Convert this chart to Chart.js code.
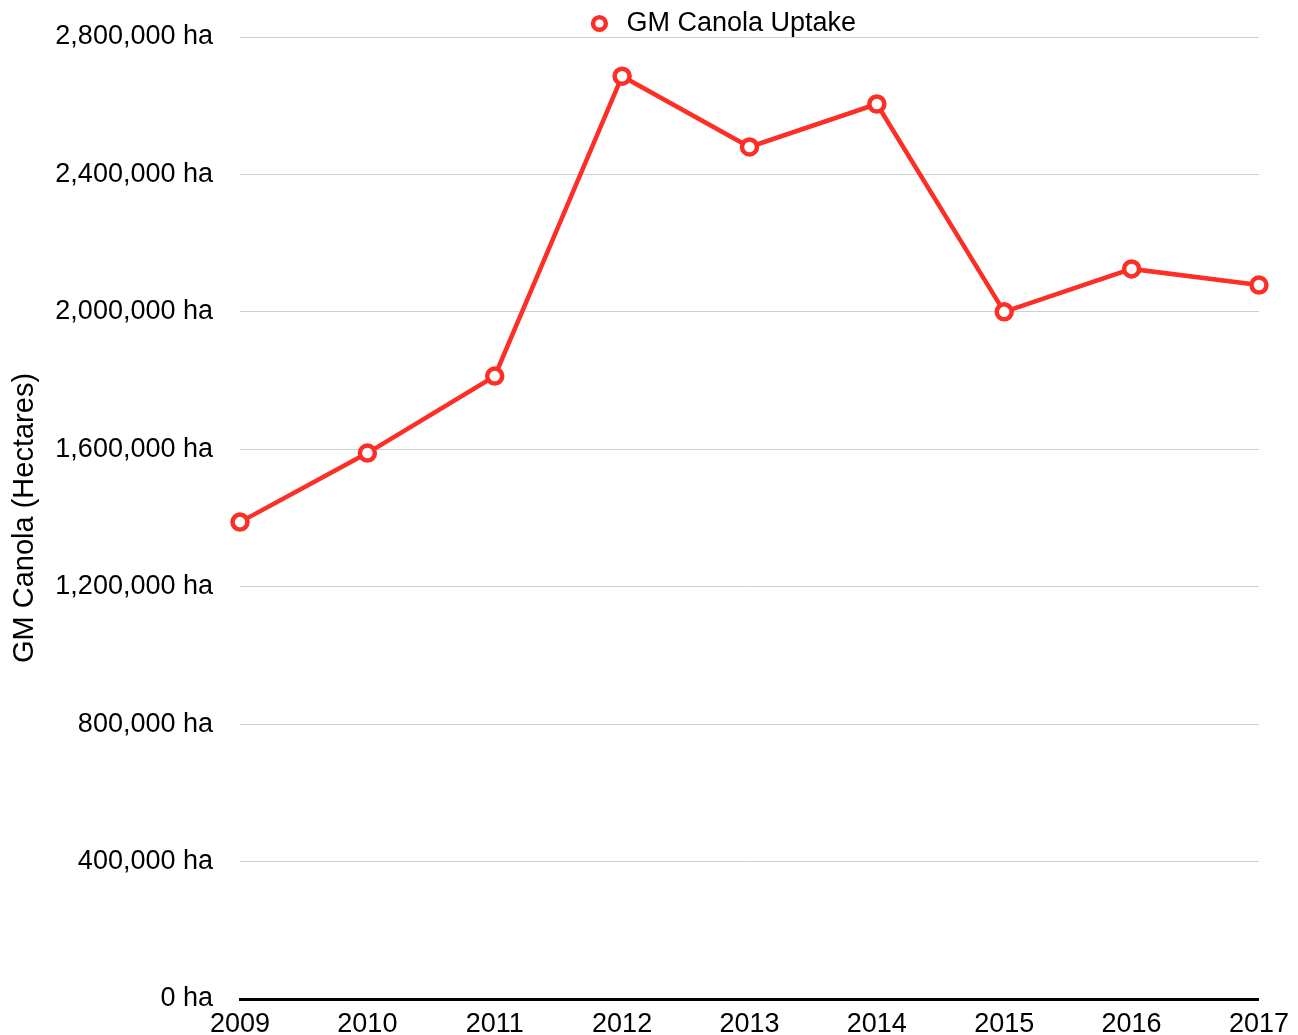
<!DOCTYPE html>
<html>
<head>
<meta charset="utf-8">
<script src="https://cdn.jsdelivr.net/npm/chart.js@4/dist/chart.umd.min.js"></script>
<style>
  html, body { margin: 0; padding: 0; background: #fff; overflow: hidden; }
  #wrap { width: 1298px; height: 1047px; position: relative; }
</style>
</head>
<body>
<div id="wrap"><canvas id="chart"></canvas></div>
<script>
const years = ['2009', '2010', '2011', '2012', '2013', '2014', '2015', '2016', '2017'];
const canolaHa = [1388000, 1589000, 1813000, 2686000, 2480000, 2605000, 2000000, 2125000, 2078000];
const yTicks = [0, 400000, 800000, 1200000, 1600000, 2000000, 2400000, 2800000];

const red = '#fc2e25';
const font = "'Liberation Sans', Arial, Helvetica, sans-serif";

// nudge the legend so it sits where the original had it
const legendShift = {
  id: 'legendShift',
  afterLayout(chart) {
    const lg = chart.legend;
    if (lg) {
      lg.left += 72; lg.right += 72;
      lg.top += 10; lg.bottom += 10;
    }
  }
};

const chartEl = document.getElementById('chart');
new Chart(chartEl, {
  type: 'line',
  data: {
    labels: years,
    datasets: [{
      label: 'GM Canola Uptake',
      data: canolaHa,
      borderColor: red,
      backgroundColor: '#fff',
      borderWidth: 4.5,
      pointRadius: 7.5,
      pointBorderWidth: 4.5,
      pointBackgroundColor: '#fff',
      pointBorderColor: red,
      tension: 0
    }]
  },
  options: {
    responsive: true,
    maintainAspectRatio: false,
    animation: false,
    layout: { padding: { top: 0, left: 8, right: 8, bottom: 0 } },
    plugins: {
      legend: {
        position: 'top',
        labels: {
          usePointStyle: true,
          boxWidth: 27,
          boxHeight: 9,
          padding: 0,
          color: '#000',
          font: { family: font, size: 27 }
        }
      },
      tooltip: { enabled: false }
    },
    scales: {
      x: {
        offset: false,
        afterFit: (axis) => { axis.height = 48; },
        grid: { display: false, drawTicks: false },
        border: { display: true, color: '#000', width: 3 },
        ticks: {
          color: '#000',
          padding: 9,
          maxRotation: 0,
          font: { family: font, size: 27 }
        }
      },
      y: {
        min: 0,
        max: 2800000,
        afterBuildTicks: (axis) => { axis.ticks = yTicks.map(v => ({ value: v })); },
        afterFit: (axis) => { axis.width = 232; axis.paddingTop = 0; axis.paddingBottom = 0; },
        grid: { color: '#cfcfcf', lineWidth: 1, drawTicks: false },
        border: { display: false },
        ticks: {
          color: '#000',
          padding: 27,
          font: { family: font, size: 27 },
          callback: (value) => Intl.NumberFormat('en-US').format(value) + ' ha'
        },
        title: {
          display: true,
          text: 'GM Canola (Hectares)',
          color: '#000',
          padding: { top: 0, bottom: 4 },
          font: { family: font, size: 29 }
        }
      }
    }
  },
  plugins: [legendShift]
});
</script>
</body>
</html>
